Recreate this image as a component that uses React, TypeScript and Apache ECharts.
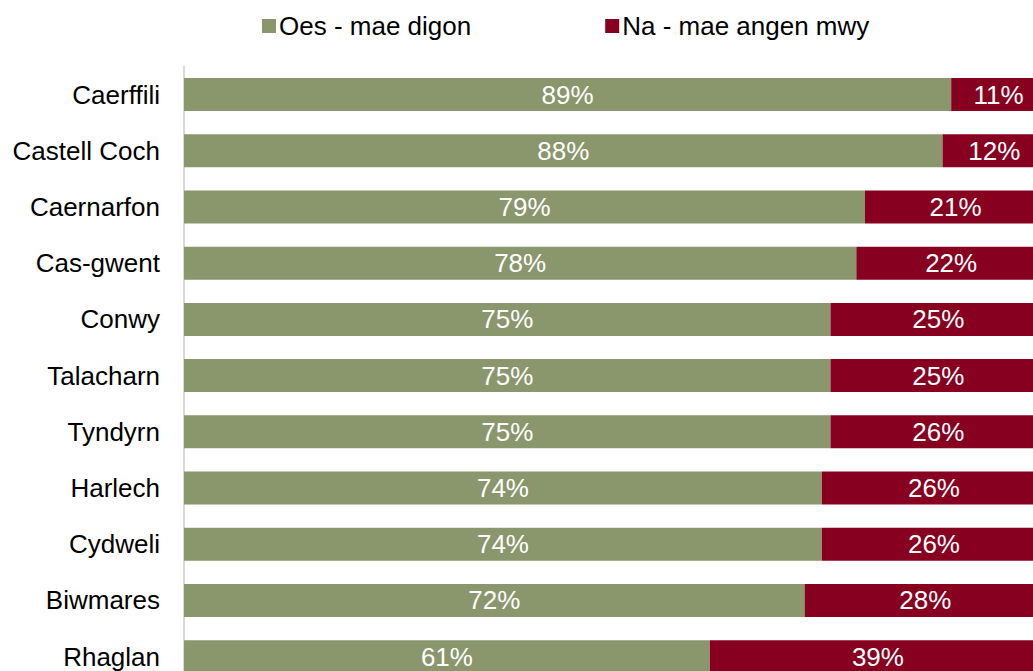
import React, { useEffect, useRef } from "react";
import * as echarts from "echarts";

const categories = [
  "Caerffili",
  "Castell Coch",
  "Caernarfon",
  "Cas-gwent",
  "Conwy",
  "Talacharn",
  "Tyndyrn",
  "Harlech",
  "Cydweli",
  "Biwmares",
  "Rhaglan",
];
const seriesNames = ["Oes - mae digon", "Na - mae angen mwy"];
const yesValues = [89, 88, 79, 78, 75, 75, 75, 74, 74, 72, 61];
const noValues = [11, 12, 21, 22, 25, 25, 26, 26, 26, 28, 39];

const FONT = "Arial, 'Liberation Sans', sans-serif";
const GREEN = "#8a966c";
const RED = "#870020";

export default function App() {
  const ref = useRef<HTMLDivElement>(null);
  useEffect(() => {
    if (!ref.current) return;
    const chart = echarts.init(ref.current, null, { renderer: "svg" });
    const label = {
      show: true,
      position: "inside",
      color: "#ffffff",
      fontSize: 26,
      fontFamily: FONT,
      formatter: "{c}%",
    };
    chart.setOption({
      animation: false,
      backgroundColor: "#ffffff",
      legend: {
        top: 8,
        left: 257,
        itemWidth: 14,
        itemHeight: 14,
        itemGap: 134,
        icon: "rect",
        textStyle: { fontSize: 26, fontFamily: FONT, color: "#000000", padding: [0, 0, 0, -2] },
        data: seriesNames,
      },
      grid: { left: 184, top: 66.4, width: 862, height: 618.4, containLabel: false },
      xAxis: {
        type: "value",
        min: 0,
        max: 100,
        show: false,
      },
      yAxis: {
        type: "category",
        inverse: true,
        data: categories,
        axisLine: { show: true, lineStyle: { color: "#d9d9d9", width: 2 } },
        axisTick: { show: false },
        splitLine: { show: false },
        axisLabel: { fontSize: 26, fontFamily: FONT, color: "#000000", margin: 24 },
      },
      series: [
        {
          name: seriesNames[0],
          type: "bar",
          stack: "total",
          barWidth: 33,
          data: yesValues,
          itemStyle: { color: GREEN },
          label,
        },
        {
          name: seriesNames[1],
          type: "bar",
          stack: "total",
          barWidth: 33,
          data: noValues,
          itemStyle: { color: RED },
          label,
        },
      ],
    });
    return () => chart.dispose();
  }, []);
  return (
    <div style={{ position: "fixed", left: 0, top: 0, width: 1033, height: 671, overflow: "hidden" }}>
      <div ref={ref} style={{ width: 1060, height: 700 }} />
    </div>
  );
}
